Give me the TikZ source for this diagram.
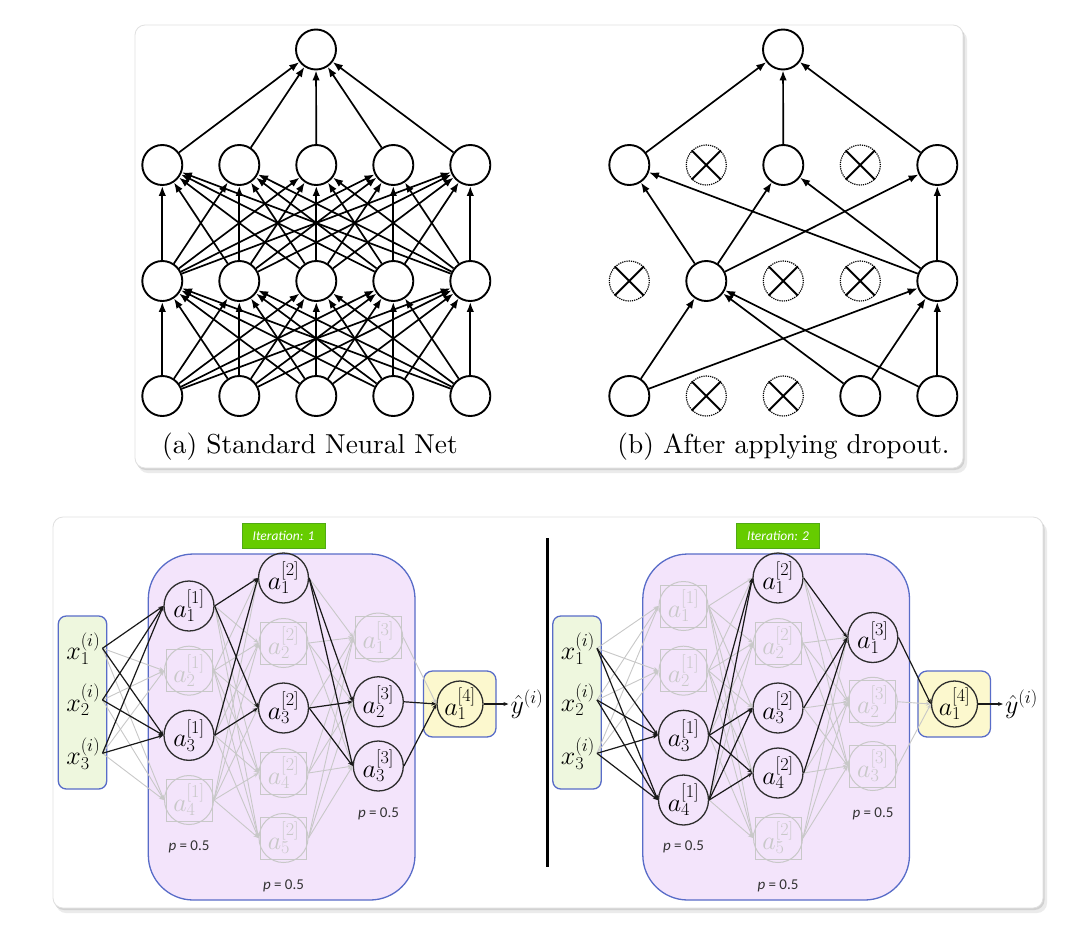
\RequirePackage{fix-cm}
\documentclass[tikz,border=0pt]{standalone}
\usepackage{fontspec}
\newfontfamily\calib{Carlito}
\usetikzlibrary{arrows.meta}
\definecolor{purpfill}{RGB}{243,228,251}
\definecolor{boxblue}{RGB}{88,108,200}
\definecolor{inpfill}{RGB}{238,247,222}
\definecolor{outfill}{RGB}{252,248,206}
\definecolor{itgreen}{RGB}{102,204,0}
\definecolor{itborder}{RGB}{80,170,20}
\definecolor{fadeg}{RGB}{200,200,200}
\definecolor{nodeline}{RGB}{45,45,45}

\newcommand\conn[4]{\ifnum#1=#4\relax\ifnum#4=1 \draw[bedge] (#2) -- (#3);\else\draw[gedge] (#2) -- (#3);\fi\fi}

\newcommand\drawiter[5]{%
\begin{scope}[xshift=#1pt]
\filldraw[fill=purpfill,draw=boxblue,line width=1.3pt,rounded corners=45pt] (148.3,554) rectangle (415,900);
\filldraw[fill=inpfill,draw=boxblue,line width=1.3pt,rounded corners=8pt] (58.3,616) rectangle (106.7,789);
\filldraw[fill=outfill,draw=boxblue,line width=1.3pt,rounded corners=9pt] (423.5,671) rectangle (496,737);
\node[iterbox] (it-#5) at (283.5,535.5) {Iteration: #5};
\node[plab] (pa-#5) at (189,846.5) {\textit{p} = 0.5};
\node[plab] (pb-#5) at (283.5,886) {\textit{p} = 0.5};
\node[plab] (pc-#5) at (378.5,814) {\textit{p} = 0.5};
\node[xin] (x1-#5) at (83.3,648.3) {$x^{(i)}_1$};
\node[xin] (x2-#5) at (83.3,700) {$x^{(i)}_2$};
\node[xin] (x3-#5) at (83.3,753.3) {$x^{(i)}_3$};
\foreach \f [count=\i] in {#2}{%
  \pgfmathsetmacro\yy{606+(\i-1)*64.67}%
  \expandafter\xdef\csname fA#5-\i\endcsname{\f}%
  \ifnum\f=1 \node[act] (A\i-#5) at (189,\yy) {$a^{[1]}_{\i}$};%
  \else \node[drop] (A\i-#5) at (189,\yy) {$a^{[1]}_{\i}$};\node[dropsq] at (189,\yy) {};\fi
}
\foreach \f [count=\i] in {#3}{%
  \pgfmathsetmacro\yy{578+(\i-1)*65}%
  \expandafter\xdef\csname fB#5-\i\endcsname{\f}%
  \ifnum\f=1 \node[act] (B\i-#5) at (283.5,\yy) {$a^{[2]}_{\i}$};%
  \else \node[drop] (B\i-#5) at (283.5,\yy) {$a^{[2]}_{\i}$};\node[dropsq] at (283.5,\yy) {};\fi
}
\foreach \f [count=\i] in {#4}{%
  \pgfmathsetmacro\yy{637.5+(\i-1)*64.25}%
  \expandafter\xdef\csname fC#5-\i\endcsname{\f}%
  \ifnum\f=1 \node[act] (C\i-#5) at (378.3,\yy) {$a^{[3]}_{\i}$};%
  \else \node[drop] (C\i-#5) at (378.3,\yy) {$a^{[3]}_{\i}$};\node[dropsq] at (378.3,\yy) {};\fi
}
\node[outn] (O-#5) at (460,704) {$a^{[4]}_1$};
\node[yout] (Y-#5) at (527,704) {$\hat{y}^{(i)}$};
\foreach \p in {0,1}{%
 \foreach \j in {1,...,4}{\foreach \i in {1,2,3}{\conn{\csname fA#5-\j\endcsname}{x\i-#5.east}{A\j-#5.west}{\p}}}%
 \foreach \i in {1,...,4}{\foreach \j in {1,...,5}{\conn{\numexpr\csname fA#5-\i\endcsname*\csname fB#5-\j\endcsname\relax}{A\i-#5.east}{B\j-#5.west}{\p}}}%
 \foreach \i in {1,...,5}{\foreach \j in {1,2,3}{\conn{\numexpr\csname fB#5-\i\endcsname*\csname fC#5-\j\endcsname\relax}{B\i-#5.east}{C\j-#5.west}{\p}}}%
 \foreach \i in {1,2,3}{\conn{\csname fC#5-\i\endcsname}{C\i-#5.east}{O-#5.west}{\p}}%
}
\draw[bedge] (O-#5) -- (Y-#5);
\end{scope}}

\begin{document}
\begin{tikzpicture}[x=1pt,y=-1pt,
  tn/.style={circle,draw,line width=1.9pt,minimum size=40pt,inner sep=0pt,fill=white},
  tdrop/.style={circle,draw,densely dotted,line width=1.2pt,minimum size=40pt,inner sep=0pt,fill=white},
  tedge/.style={line width=1.7pt,-{Latex[length=10pt,width=7.5pt]}},
  xline/.style={line width=2pt},
  act/.style={circle,draw=nodeline,line width=1.3pt,minimum size=50pt,inner sep=0pt,font=\fontsize{26}{30}\selectfont},
  drop/.style={circle,draw=fadeg,line width=1pt,minimum size=49pt,inner sep=0pt,text=fadeg,font=\fontsize{26}{30}\selectfont},
  dropsq/.style={rectangle,draw=fadeg,line width=1pt,minimum width=46pt,minimum height=42pt,inner sep=0pt},
  xin/.style={inner sep=2pt,font=\fontsize{26}{30}\selectfont},
  outn/.style={circle,draw=nodeline,line width=1.3pt,minimum size=46pt,inner sep=0pt,font=\fontsize{26}{30}\selectfont},
  yout/.style={inner sep=2pt,font=\fontsize{26}{30}\selectfont},
  bedge/.style={draw=black!90,line width=1.2pt,-{Stealth[length=5pt,width=4pt]}},
  gedge/.style={draw=fadeg,line width=0.9pt,-{Stealth[length=5pt,width=4pt]}},
  iterbox/.style={fill=itgreen,draw=itborder,line width=0.8pt,text=white,minimum width=83pt,minimum height=25pt,inner sep=0pt,font=\calib\itshape\fontsize{13.5}{15}\selectfont},
  plab/.style={font=\calib\fontsize{15}{17}\selectfont,text=black!80,inner sep=1pt},
  panel/.style={fill=white,draw=black!12,line width=0.8pt,rounded corners=10pt},
  shad/.style={rounded corners=10pt}
]
\useasboundingbox (0,0) rectangle (1089,932);
\fill[white] (0,0) rectangle (1089,932);
% ---------- top panel ----------
\fill[shad,black!8] (138,30) rectangle (967,473);
\fill[shad,black!18] (136,27) rectangle (964.5,470);
\draw[panel] (135,25) rectangle (963,468);
% (a) standard net
\foreach \i in {1,...,5}{
  \pgfmathsetmacro\xx{162.3+(\i-1)*77}
  \node[tn] (a2-\i) at (\xx,165) {};
  \node[tn] (a3-\i) at (\xx,281) {};
  \node[tn] (a4-\i) at (\xx,396) {};
}
\node[tn] (a1) at (316,49.5) {};
\foreach \i in {1,...,5}{
  \foreach \j in {1,...,5}{
    \draw[tedge] (a4-\i) -- (a3-\j);
    \draw[tedge] (a3-\i) -- (a2-\j);
  }
  \draw[tedge] (a2-\i) -- (a1);
}
\node[scale=2.74] (la) at (310,447) {(a) Standard Neural Net};
% (b) after dropout
\foreach \i in {1,...,5}{
  \pgfmathsetmacro\xx{629.3+(\i-1)*77}
  \coordinate (pb2-\i) at (\xx,165);
  \coordinate (pb3-\i) at (\xx,281);
  \coordinate (pb4-\i) at (\xx,396);
}
\node[tn] (b1) at (783,49.5) {};
\foreach \r/\k in {2/1,2/3,2/5,3/2,3/5,4/1,4/4,4/5}{
  \node[tn] (b\r-\k) at (pb\r-\k) {};
}
\foreach \r/\k in {2/2,2/4,3/1,3/3,3/4,4/2,4/3}{
  \node[tdrop] (b\r-\k) at (pb\r-\k) {};
  \draw[xline] (b\r-\k.north west) -- (b\r-\k.south east) (b\r-\k.north east) -- (b\r-\k.south west);
}
\foreach \i in {1,3,5}{\draw[tedge] (b2-\i) -- (b1);}
\foreach \s in {2,5}{\foreach \t in {1,3,5}{\draw[tedge] (b3-\s) -- (b2-\t);}}
\foreach \s in {1,4,5}{\foreach \t in {2,5}{\draw[tedge] (b4-\s) -- (b3-\t);}}
\node[scale=2.74] (lb) at (783.5,447) {(b) After applying dropout.};
% ---------- bottom panel ----------
\fill[shad,black!8] (56,522) rectangle (1047,913);
\fill[shad,black!18] (54,519) rectangle (1044.5,910);
\draw[panel] (53,517) rectangle (1043,908);
\drawiter{0}{1,0,1,0}{1,0,1,0,0}{0,1,1}{1}
\drawiter{494.5}{0,0,1,1}{1,0,1,1,0}{1,0,0}{2}
\draw[line width=3pt] (547.3,538) -- (547.3,867);
\end{tikzpicture}
\end{document}
